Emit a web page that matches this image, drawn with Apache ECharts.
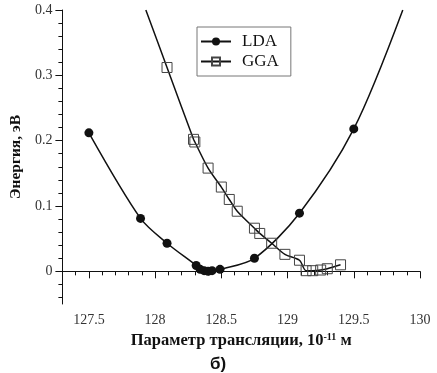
<!DOCTYPE html>
<html>
<head>
<meta charset="utf-8">
<script src="https://cdn.jsdelivr.net/npm/echarts@6/dist/echarts.min.js"></script>
<style>
    html, body { margin: 0; padding: 0; background: #fff; }
    #chart { width: 437px; height: 373px; }
</style>
</head>
<body>
<div id="chart"></div>
<script>
    // LDA: параметр трансляции (10^-11 м) и энергия (эВ)
    const ldaX = [127.5, 127.89, 128.09, 128.31, 128.34, 128.37, 128.4, 128.43, 128.49, 128.75, 129.09, 129.5, 129.87]
    const ldaY = [0.212, 0.081, 0.043, 0.009, 0.003, 0.001, 0.0, 0.001, 0.003, 0.02, 0.089, 0.218, 0.4]
    // GGA
    const ggaX = [127.93, 128.09, 128.29, 128.3, 128.4, 128.5, 128.56, 128.62, 128.75, 128.79, 128.88, 128.98, 129.09, 129.14, 129.19, 129.25, 129.3, 129.4]
    const ggaY = [0.4, 0.312, 0.202, 0.198, 0.158, 0.129, 0.11, 0.092, 0.066, 0.058, 0.043, 0.026, 0.017, 0.001, 0.001, 0.002, 0.004, 0.01]

    // подписи осей
    const xLabels = [127.5, 128, 128.5, 129, 129.5, 130]
    const xMinor = [127.4, 127.6, 127.7, 127.8, 127.9, 128.1, 128.2, 128.3, 128.4, 128.6, 128.7, 128.8, 128.9,
        129.1, 129.2, 129.3, 129.4, 129.6, 129.7, 129.8, 129.9]
    const yLabels = [0, 0.1, 0.2, 0.3, 0.4]
    const yMinor = [-0.04, -0.02, 0.02, 0.04, 0.06, 0.08, 0.12, 0.14, 0.16, 0.18, 0.22, 0.24, 0.26, 0.28,
        0.32, 0.34, 0.36, 0.38]

    const serif = '"Liberation Serif", "DejaVu Serif", serif'
    const ink = '#111'

    // крайние точки только для продолжения линии до верха графика
    function toData(xs, ys, hideLast, hideFirst) {
        return xs.map((x, i) => {
            const item = { value: [x, ys[i]] }
            if ((hideLast && i === xs.length - 1) || (hideFirst && i === 0)) {
                item.symbolSize = 0
            }
            return item
        })
    }

    const chart = echarts.init(document.getElementById('chart'), null, { renderer: 'canvas' })

    const option = {
        animation: false,
        backgroundColor: '#fff',
        grid: { left: 55, top: 10, right: 17, bottom: 69 },
        legend: {
            left: 197,
            top: 27,
            orient: 'vertical',
            itemWidth: 30,
            itemHeight: 10,
            itemGap: 3,
            padding: [6, 12, 6, 3],
            borderColor: '#777',
            borderWidth: 1,
            textStyle: { fontFamily: serif, fontSize: 17, color: ink, padding: [0, 0, 0, 6] },
            data: ['LDA', 'GGA']
        },
        xAxis: [{
            type: 'value',
            min: 127.3,
            max: 130,
            name: '{a|Параметр трансляции, 10}{s|-11}{a| м}',
            nameLocation: 'middle',
            nameGap: 28,
            nameTextStyle: {
                rich: {
                    a: { fontFamily: serif, fontWeight: 'bold', fontSize: 16.5, color: ink, verticalAlign: 'bottom' },
                    s: { fontFamily: serif, fontWeight: 'bold', fontSize: 10, color: ink, verticalAlign: 'top', padding: [0, 0, 7, 0] }
                }
            },
            axisLine: { lineStyle: { color: ink, width: 1 } },
            axisTick: { customValues: xLabels, length: 7, lineStyle: { color: ink } },
            axisLabel: { customValues: xLabels, fontFamily: serif, fontSize: 14, color: '#333', margin: 9 },
            splitLine: { show: false }
        }, {
            type: 'value',
            min: 127.3,
            max: 130,
            position: 'bottom',
            axisLine: { show: false },
            axisTick: { customValues: xMinor, length: 4, lineStyle: { color: ink } },
            axisLabel: { show: false },
            splitLine: { show: false }
        }],
        yAxis: [{
            type: 'value',
            min: -0.05,
            max: 0.4,
            name: 'Энергия, эВ',
            nameLocation: 'middle',
            nameGap: 34,
            nameTextStyle: { fontFamily: serif, fontWeight: 'bold', fontSize: 15.5, color: ink },
            axisLine: { show: true, lineStyle: { color: ink, width: 1 } },
            axisTick: { show: true, customValues: yLabels, length: 7, lineStyle: { color: ink } },
            axisLabel: { customValues: yLabels, fontFamily: serif, fontSize: 14, color: '#333', margin: 10 },
            splitLine: { show: false }
        }, {
            type: 'value',
            min: -0.05,
            max: 0.4,
            position: 'left',
            axisLine: { show: false },
            axisTick: { show: true, customValues: yMinor, length: 4, lineStyle: { color: ink } },
            axisLabel: { show: false },
            splitLine: { show: false }
        }],
        series: [{
            name: 'LDA',
            type: 'line',
            smooth: 0.3,
            symbol: 'circle',
            symbolSize: 9,
            lineStyle: { color: ink, width: 1.5 },
            itemStyle: { color: ink },
            data: toData(ldaX, ldaY, true, false)
        }, {
            name: 'GGA',
            type: 'line',
            smooth: 0.3,
            symbol: 'rect',
            symbolSize: 10,
            lineStyle: { color: ink, width: 1.5 },
            itemStyle: { color: 'rgba(255,255,255,0)', borderColor: '#444', borderWidth: 1 },
            data: toData(ggaX, ggaY, false, true)
        }],
        graphic: [{
            type: 'text',
            left: 210,
            top: 356,
            style: { text: 'б)', font: 'bold 17px "Liberation Sans", Arial, sans-serif', fill: ink }
        }]
    }

    chart.setOption(option)
</script>
</body>
</html>
